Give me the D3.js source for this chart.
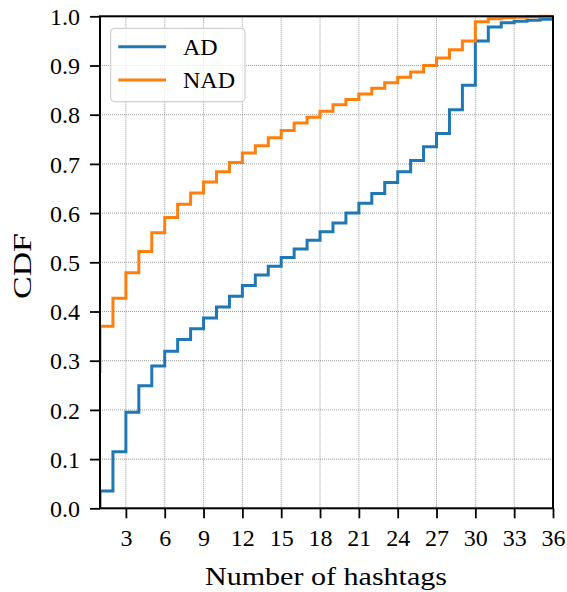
<!DOCTYPE html>
<html>
<head>
<meta charset="utf-8">
<script src="https://cdn.jsdelivr.net/npm/d3@7"></script>
<style>
  html, body { margin: 0; padding: 0; background: #fff; }
  svg { display: block; }
  text { font-family: "Liberation Serif", "DejaVu Serif", serif; fill: #000; }
</style>
</head>
<body>
<svg id="chart" width="567" height="592"></svg>
<script>
// ---- data ----
const hashtags = d3.range(0, 37);
const adCdf = [0, 0.035, 0.115, 0.195, 0.249, 0.289, 0.319, 0.343, 0.365, 0.387,
  0.409, 0.431, 0.453, 0.474, 0.492, 0.510, 0.527, 0.545, 0.562, 0.580,
  0.600, 0.620, 0.640, 0.662, 0.684, 0.707, 0.735, 0.762, 0.810, 0.860,
  0.950, 0.978, 0.987, 0.990, 0.992, 0.994, 0.995];
const nadCdf = [0.278, 0.370, 0.427, 0.479, 0.522, 0.560, 0.591, 0.618, 0.641, 0.663,
  0.684, 0.703, 0.722, 0.737, 0.753, 0.768, 0.783, 0.795, 0.807, 0.820,
  0.831, 0.842, 0.854, 0.865, 0.876, 0.887, 0.900, 0.915, 0.932, 0.950,
  0.989, 0.995, 0.997, 0.998, 0.999, 1.0, 1.0];
const seriesNames = ["AD", "NAD"];
const seriesColors = ["#1f77b4", "#ff7f0e"];
const xTicks = d3.range(3, 37, 3);
const yTicks = d3.range(0, 11).map(i => i / 10);

// ---- layout ----
const L = 100, R = 553, T = 16.3, B = 508.3;
const FONT = "'Liberation Serif', 'DejaVu Serif', serif";
const svg = d3.select("#chart");
const x = d3.scaleLinear().domain([1, 36]).range([L, R]);
const y = d3.scaleLinear().domain([0, 1]).range([B, T]);

svg.append("defs").append("clipPath").attr("id", "clip")
  .append("rect").attr("x", L).attr("y", T - 2).attr("width", R - L).attr("height", B - T + 2);

// grid
const grid = svg.append("g").attr("stroke", "#808080").attr("stroke-width", 0.8)
  .attr("stroke-dasharray", "1,1");
grid.selectAll(".gx").data(xTicks).join("line")
  .attr("x1", d => x(d)).attr("x2", d => x(d)).attr("y1", T).attr("y2", B);
grid.selectAll(".gy").data(yTicks).join("line")
  .attr("y1", d => y(d)).attr("y2", d => y(d)).attr("x1", L).attr("x2", R);

// lines
const line = d3.line().x(d => x(d[0])).y(d => y(d[1])).curve(d3.curveStepAfter);
const series = [adCdf, nadCdf];
const plot = svg.append("g").attr("clip-path", "url(#clip)");
series.forEach((vals, i) => {
  plot.append("path")
    .datum(hashtags.map((h, j) => [h, vals[j]]))
    .attr("fill", "none")
    .attr("stroke", seriesColors[i])
    .attr("stroke-width", 3)
    .attr("stroke-linejoin", "miter")
    .attr("d", line);
});

// axes
const xAxis = d3.axisBottom(x).tickValues(xTicks).tickSize(10).tickPadding(9)
  .tickFormat(d3.format("d"));
const yAxis = d3.axisLeft(y).tickValues(yTicks).tickSize(10).tickPadding(10)
  .tickFormat(d3.format(".1f"));
const gx = svg.append("g").attr("transform", `translate(0,${B})`).call(xAxis);
const gy = svg.append("g").attr("transform", `translate(${L},0)`).call(yAxis);
[gx, gy].forEach(g => {
  g.attr("font-family", FONT).attr("font-size", 24);
  g.select(".domain").remove();
  g.selectAll(".tick line").attr("stroke", "#000").attr("stroke-width", 1.8);
  g.selectAll(".tick text").attr("font-size", 24).style("font-size", "24px").style("font-family", FONT);
});
gx.selectAll(".tick text").attr("dy", "0.78em");
gy.selectAll(".tick text").attr("dy", "0.34em");

// spines
svg.append("rect").attr("x", L).attr("y", T).attr("width", R - L).attr("height", B - T)
  .attr("fill", "none").attr("stroke", "#000").attr("stroke-width", 2);

// labels
svg.append("text").attr("x", 326).attr("y", 585).attr("text-anchor", "middle")
  .attr("font-size", 25).attr("textLength", 242).attr("lengthAdjust", "spacingAndGlyphs")
  .style("font-family", FONT).text("Number of hashtags");
svg.append("text").attr("transform", `translate(31,266) rotate(-90)`)
  .attr("text-anchor", "middle").attr("font-size", 25)
  .attr("textLength", 66).attr("lengthAdjust", "spacingAndGlyphs")
  .style("font-family", FONT).text("CDF");

// legend
const lg = svg.append("g");
lg.append("rect").attr("x", 110.7).attr("y", 28.3).attr("width", 134.3).attr("height", 73.4)
  .attr("rx", 4).attr("fill", "#fff").attr("fill-opacity", 0.8)
  .attr("stroke", "#d0d0d0").attr("stroke-width", 1.2);
seriesNames.forEach((name, i) => {
  const yy = 46.7 + i * 33.3;
  lg.append("line").attr("x1", 118.3).attr("x2", 166).attr("y1", yy).attr("y2", yy)
    .attr("stroke", seriesColors[i]).attr("stroke-width", 3);
  lg.append("text").attr("x", 183).attr("y", yy).attr("dy", "0.35em")
    .attr("font-size", 24).style("font-family", FONT).text(name);
});
</script>
</body>
</html>
